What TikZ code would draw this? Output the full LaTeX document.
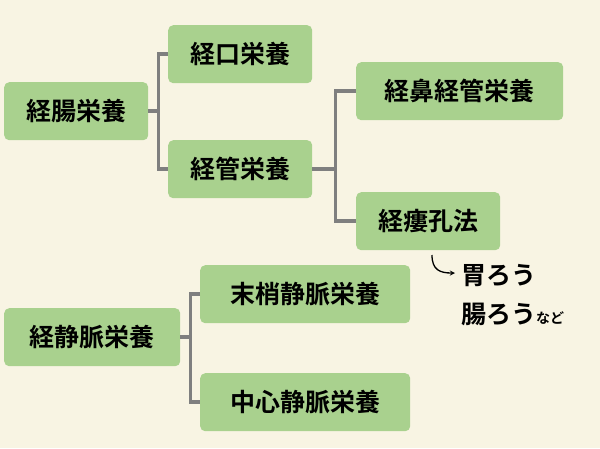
\documentclass[tikz,border=0pt]{standalone}
\usepackage{fontspec}
\newfontfamily\jp{Noto Sans CJK JP Bold}
\definecolor{bg}{HTML}{F8F4E3}
\definecolor{bx}{HTML}{A9D18E}
\definecolor{ln}{HTML}{7F7F7F}
\begin{document}
\begin{tikzpicture}[x=1pt,y=-1pt,
  box/.style={fill=bx,rounded corners=5pt,inner sep=0pt,font=\jp\fontsize{25}{25}\selectfont,anchor=north west},
  con/.style={ln,line width=3.5pt}]
\fill[bg] (0,0) rectangle (600,448);
\useasboundingbox (0,0) rectangle (600,448);
\node[box,minimum width=144,minimum height=58] (a) at (4,82) {経腸栄養};
\node[box,minimum width=144,minimum height=58] (b) at (168,25) {経口栄養};
\node[box,minimum width=144,minimum height=58] (c) at (168,140) {経管栄養};
\node[box,minimum width=207,minimum height=58] (d) at (356,62) {経鼻経管栄養};
\node[box,minimum width=144,minimum height=58] (e) at (356,192) {経瘻孔法};
\node[box,minimum width=176,minimum height=58] (f) at (4,308) {経静脈栄養};
\node[box,minimum width=210,minimum height=58] (g) at (200,265) {末梢静脈栄養};
\node[box,minimum width=210,minimum height=58] (h) at (200,373) {中心静脈栄養};
\draw[con] (a.east) -- ++(10,0) coordinate (j1);
\draw[con] (b.west) -| (j1) |- (c.west);
\draw[con] (c.east) -- ++(23,0) coordinate (j2);
\draw[con] (d.west) -| (j2) |- (e.west);
\draw[con] (f.east) -- ++(10,0) coordinate (j3);
\draw[con] (g.west) -| (j3) |- (h.west);
\node[font=\jp\fontsize{25}{25}\selectfont,anchor=west,inner sep=0pt] (t1) at (461,276) {胃ろう};
\node[font=\jp\fontsize{25}{25}\selectfont,anchor=west,inner sep=0pt] (t2) at (461,314) {腸ろう{\fontsize{14}{14}\selectfont など}};
\coordinate (s) at (432,255);
\draw[black,line width=1.3pt,->,>={stealth}] (s) .. controls (432,270) and (440,273) .. (455,273);
\end{tikzpicture}
\end{document}
